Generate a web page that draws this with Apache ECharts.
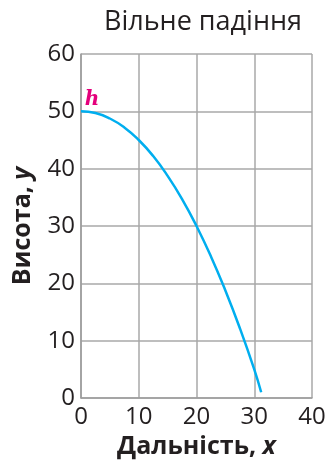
<!DOCTYPE html>
<html>
<head>
<meta charset="utf-8">
<script src="https://cdn.jsdelivr.net/npm/echarts@6/dist/echarts.min.js"></script>
<style>
html,body{margin:0;padding:0;background:#fff;}
#chart{width:326px;height:460px;}
</style>
</head>
<body>
<div id="chart"></div>
<script>
// точки кривої
var xValues = [0, 2.5, 5, 7.5, 10, 12.5, 15, 17.5, 20, 22.5, 25, 27.5, 30, 31.2];
var yValues = [50, 49.7, 48.75, 47.2, 45, 42.2, 38.75, 34.7, 30, 24.7, 18.75, 12.2, 5, 1.0];
var xTicks = [0, 10, 20, 30, 40];
var yTicks = [0, 10, 20, 30, 40, 50, 60];

var points = [];
for (var i = 0; i < xValues.length; i++) {
	points.push([xValues[i], yValues[i]]);
}

var myChart = echarts.init(document.getElementById('chart'));
var textColor = '#231f20';
var nameRich = {
	b: {fontFamily: 'Open Sans', fontWeight: 'bold', fontSize: 25, color: textColor},
	i: {fontFamily: 'Open Sans', fontWeight: 'bold', fontStyle: 'italic', fontSize: 25, color: textColor}
};
var option = {
	animation: false,
	title: {
		text: 'Вільне падіння',
		left: 198,
		top: 4,
		textAlign: 'center',
		textStyle: {
			fontFamily: 'Open Sans',
			fontWeight: 'normal',
			fontSize: 27,
			color: textColor
		}
	},
	grid: {
		left: 81,
		right: 14,
		top: 54,
		bottom: 62,
		outerBoundsMode: 'none',
		containLabel: false
	},
	xAxis: {
		type: 'value',
		min: 0,
		max: 40,
		interval: 10,
		name: '{b|Дальність, }{i|x}',
		nameLocation: 'middle',
		nameGap: 32,
		nameTextStyle: {rich: nameRich},
		axisLine: {show: true, lineStyle: {color: '#9d9d9d', width: 1.5}},
		axisTick: {show: false},
		axisLabel: {
			margin: 7,
			fontFamily: 'Open Sans',
			fontSize: 24,
			color: textColor,
			formatter: function (v) { return xTicks.indexOf(v) >= 0 ? String(v) : ''; }
		},
		splitLine: {show: true, lineStyle: {color: '#a8a8a8', width: 1.5}}
	},
	yAxis: {
		type: 'value',
		min: 0,
		max: 60,
		interval: 10,
		name: '{b|Висота, }{i|y}',
		nameLocation: 'middle',
		nameGap: 46,
		nameTextStyle: {rich: nameRich},
		axisLine: {show: true, lineStyle: {color: '#9d9d9d', width: 1.5}},
		axisTick: {show: false},
		axisLabel: {
			margin: 6,
			fontFamily: 'Open Sans',
			fontSize: 24,
			color: textColor,
			formatter: function (v) { return yTicks.indexOf(v) >= 0 ? String(v) : ''; }
		},
		splitLine: {show: true, lineStyle: {color: '#a8a8a8', width: 1.5}}
	},
	series: [
		{
			type: 'line',
			smooth: true,
			showSymbol: false,
			symbol: 'none',
			lineStyle: {color: '#00aeef', width: 2.5},
			data: points,
			markPoint: {
				symbol: 'circle',
				symbolSize: 0,
				label: {
					show: true,
					formatter: 'h',
					position: 'top',
					offset: [11, 3],
					fontFamily: 'DejaVu Serif',
					fontStyle: 'italic',
					fontWeight: 'bold',
					fontSize: 20,
					color: '#e4007c'
				},
				data: [{coord: [xValues[0], yValues[0]]}]
			}
		}
	]
};
myChart.setOption(option);
</script>
</body>
</html>
